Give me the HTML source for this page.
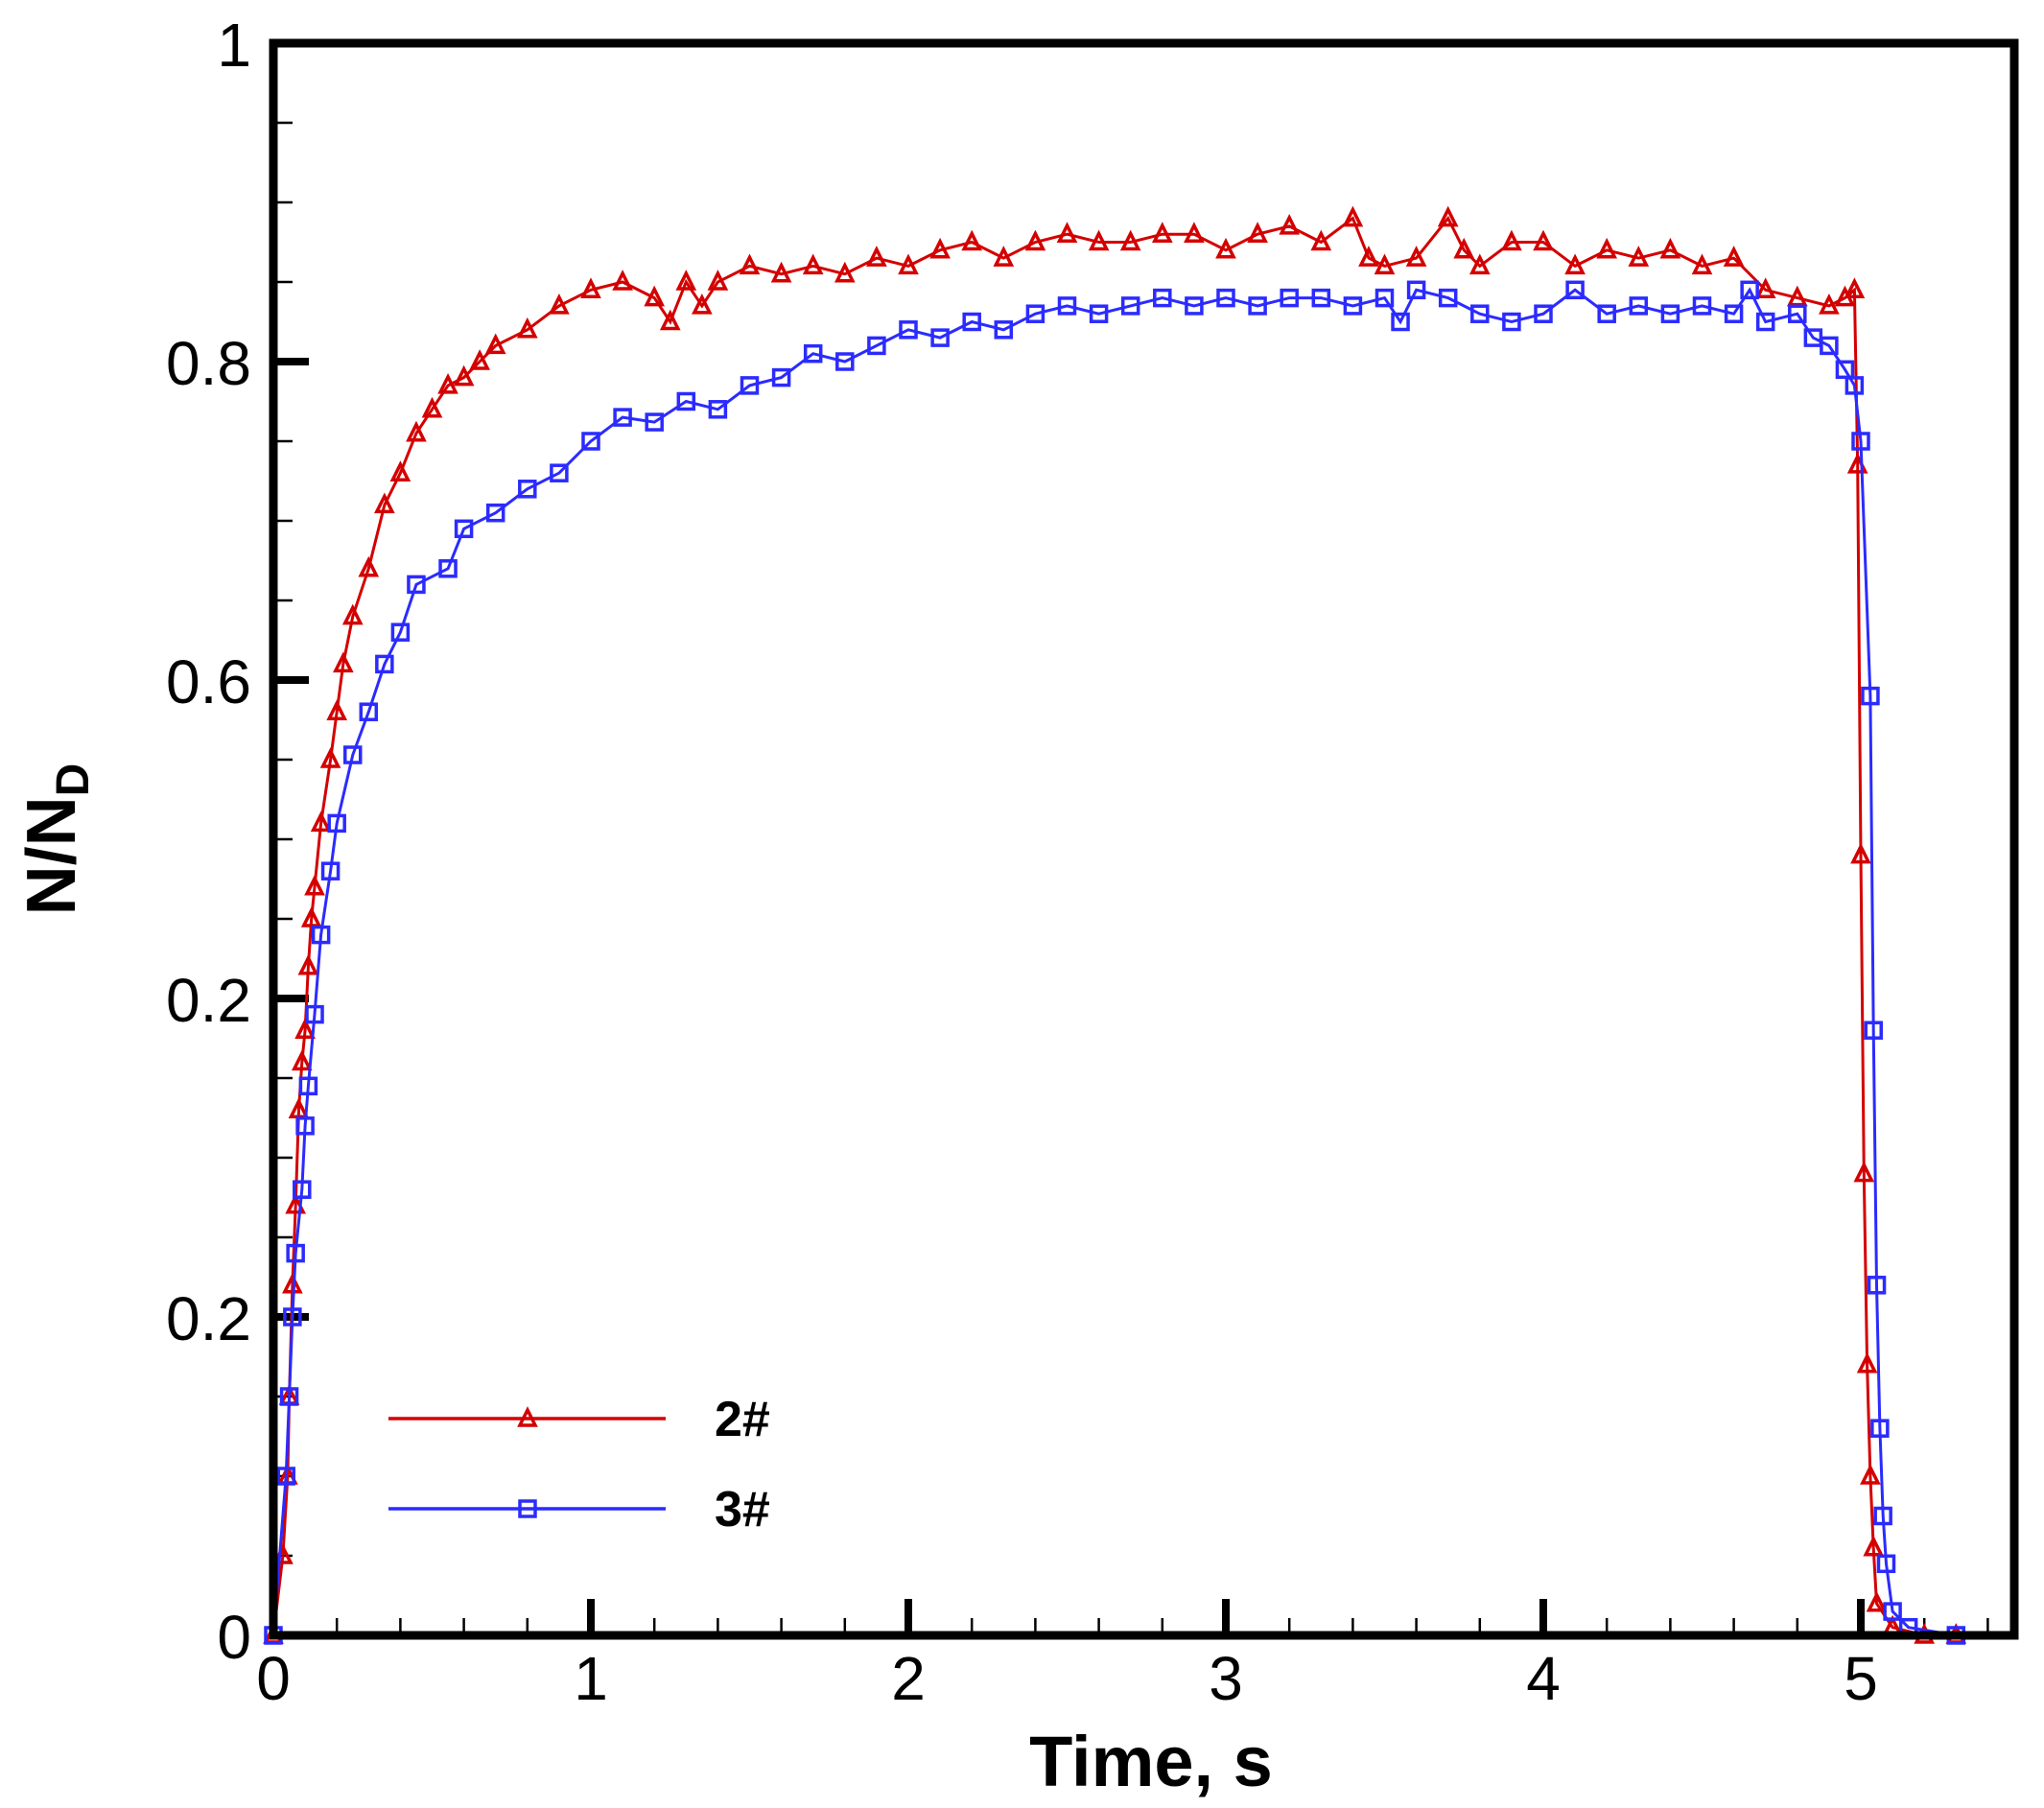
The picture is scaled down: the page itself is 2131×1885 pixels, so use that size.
<!DOCTYPE html>
<html><head><meta charset="utf-8"><style>
html,body{margin:0;padding:0;background:#fff;}
svg{display:block;}
text{font-family:"Liberation Sans",Arial,sans-serif;}
</style></head><body>
<svg id="s" width="2131" height="1885" viewBox="0 0 2131 1885" xmlns="http://www.w3.org/2000/svg">
<rect width="2131" height="1885" fill="#fff"/>
<g id="ticks"></g>
<g id="series"></g>
<rect x="285" y="45" width="1815" height="1660" fill="none" stroke="#000" stroke-width="9"/>
<g font-size="64" fill="#000">
<text x="285" y="1772" text-anchor="middle">0</text>
<text x="616" y="1772" text-anchor="middle">1</text>
<text x="947" y="1772" text-anchor="middle">2</text>
<text x="1278" y="1772" text-anchor="middle">3</text>
<text x="1609" y="1772" text-anchor="middle">4</text>
<text x="1940" y="1772" text-anchor="middle">5</text>
<text x="262" y="69" text-anchor="end">1</text>
<text x="262" y="401" text-anchor="end">0.8</text>
<text x="262" y="733" text-anchor="end">0.6</text>
<text x="262" y="1065" text-anchor="end">0.2</text>
<text x="262" y="1397" text-anchor="end">0.2</text>
<text x="262" y="1729" text-anchor="end">0</text>
</g>
<text x="1200" y="1862" text-anchor="middle" font-size="74" font-weight="bold">Time, s</text>
<text transform="translate(78,875) rotate(-90)" text-anchor="middle" font-size="72" font-weight="bold">N/N<tspan font-size="48" dy="14">D</tspan></text>
<g id="legend">
<line x1="405" y1="1479" x2="694" y2="1479" stroke="#d40000" stroke-width="3.5"/>
<line x1="405" y1="1573" x2="694" y2="1573" stroke="#2b2bff" stroke-width="3.5"/>
<text x="745" y="1497" font-size="52" font-weight="bold">2#</text>
<text x="745" y="1591" font-size="52" font-weight="bold">3#</text>
</g>
</svg>
<script>
var NS="http://www.w3.org/2000/svg";
function X(t){return 285+t*331;}
function Y(v){return 1705-v*1660;}
function el(p,n,a){var e=document.createElementNS(NS,n);for(var k in a)e.setAttribute(k,a[k]);p.appendChild(e);return e;}
var tk=document.getElementById('ticks');
for(var i=0;i<=27;i++){var t=i*0.2;var x=X(t);if(x>2096)break;var maj=(i%5==0);
 el(tk,'line',{x1:x,y1:1705,x2:x,y2:maj?1667:1687,stroke:'#000','stroke-width':maj?8:2.5});}
for(var i=0;i<=20;i++){var v=i*0.05;var y=Y(v);var maj=(i%4==0);
 el(tk,'line',{x1:285,y1:y,x2:maj?322:305,y2:y,stroke:'#000','stroke-width':maj?8:2.5});}
var red=[[0,0],[0.03,0.05],[0.045,0.1],[0.05,0.15],[0.06,0.22],[0.07,0.27],[0.08,0.33],[0.09,0.36],[0.1,0.38],[0.11,0.42],[0.12,0.45],[0.13,0.47],[0.15,0.51],[0.18,0.55],[0.2,0.58],[0.22,0.61],[0.25,0.64],[0.3,0.67],[0.35,0.71],[0.4,0.73],[0.45,0.755],[0.5,0.77],[0.55,0.785],[0.6,0.79],[0.65,0.8],[0.7,0.81],[0.8,0.82],[0.9,0.835],[1.0,0.845],[1.1,0.85],[1.2,0.84],[1.25,0.825],[1.3,0.85],[1.35,0.835],[1.4,0.85],[1.5,0.86],[1.6,0.855],[1.7,0.86],[1.8,0.855],[1.9,0.865],[2.0,0.86],[2.1,0.87],[2.2,0.875],[2.3,0.865],[2.4,0.875],[2.5,0.88],[2.6,0.875],[2.7,0.875],[2.8,0.88],[2.9,0.88],[3.0,0.87],[3.1,0.88],[3.2,0.885],[3.3,0.875],[3.4,0.89],[3.45,0.865],[3.5,0.86],[3.6,0.865],[3.7,0.89],[3.75,0.87],[3.8,0.86],[3.9,0.875],[4.0,0.875],[4.1,0.86],[4.2,0.87],[4.3,0.865],[4.4,0.87],[4.5,0.86],[4.6,0.865],[4.7,0.845],[4.8,0.84],[4.9,0.835],[4.95,0.84],[4.98,0.845],[4.99,0.735],[5.0,0.49],[5.01,0.29],[5.02,0.17],[5.03,0.1],[5.04,0.055],[5.05,0.02],[5.1,0.005],[5.2,0],[5.3,0]];
var blue=[[0,0],[0.04,0.1],[0.05,0.15],[0.06,0.2],[0.07,0.24],[0.09,0.28],[0.1,0.32],[0.11,0.345],[0.13,0.39],[0.15,0.44],[0.18,0.48],[0.2,0.51],[0.25,0.553],[0.3,0.58],[0.35,0.61],[0.4,0.63],[0.45,0.66],[0.55,0.67],[0.6,0.695],[0.7,0.705],[0.8,0.72],[0.9,0.73],[1.0,0.75],[1.1,0.765],[1.2,0.762],[1.3,0.775],[1.4,0.77],[1.5,0.785],[1.6,0.79],[1.7,0.805],[1.8,0.8],[1.9,0.81],[2.0,0.82],[2.1,0.815],[2.2,0.825],[2.3,0.82],[2.4,0.83],[2.5,0.835],[2.6,0.83],[2.7,0.835],[2.8,0.84],[2.9,0.835],[3.0,0.84],[3.1,0.835],[3.2,0.84],[3.3,0.84],[3.4,0.835],[3.5,0.84],[3.55,0.825],[3.6,0.845],[3.7,0.84],[3.8,0.83],[3.9,0.825],[4.0,0.83],[4.1,0.845],[4.2,0.83],[4.3,0.835],[4.4,0.83],[4.5,0.835],[4.6,0.83],[4.65,0.845],[4.7,0.825],[4.8,0.83],[4.85,0.815],[4.9,0.81],[4.95,0.795],[4.98,0.785],[5.0,0.75],[5.03,0.59],[5.04,0.38],[5.05,0.22],[5.06,0.13],[5.07,0.075],[5.08,0.045],[5.1,0.015],[5.15,0.005],[5.3,0]];
var sg=document.getElementById('series');
function draw(d,c,type){
 var pts=d.map(function(p){return X(p[0]).toFixed(1)+','+Y(p[1]).toFixed(1);}).join(' ');
 el(sg,'polyline',{points:pts,fill:'none',stroke:c,'stroke-width':3});
 d.forEach(function(p){mark(X(p[0]),Y(p[1]),c,type);});
}
function mark(x,y,c,type){
 if(type=='t'){el(sg,'polygon',{points:(x-8)+','+(y+7)+' '+(x+8)+','+(y+7)+' '+x+','+(y-9),fill:'none',stroke:c,'stroke-width':3.5});}
 else{el(sg,'rect',{x:x-8,y:y-8,width:16,height:16,fill:'none',stroke:c,'stroke-width':3.5});}
}
draw(red,'#d40000','t');
draw(blue,'#2b2bff','s');
mark(550,1479,'#d40000','t');
mark(550,1573,'#2b2bff','s');
</script>
</body></html>
